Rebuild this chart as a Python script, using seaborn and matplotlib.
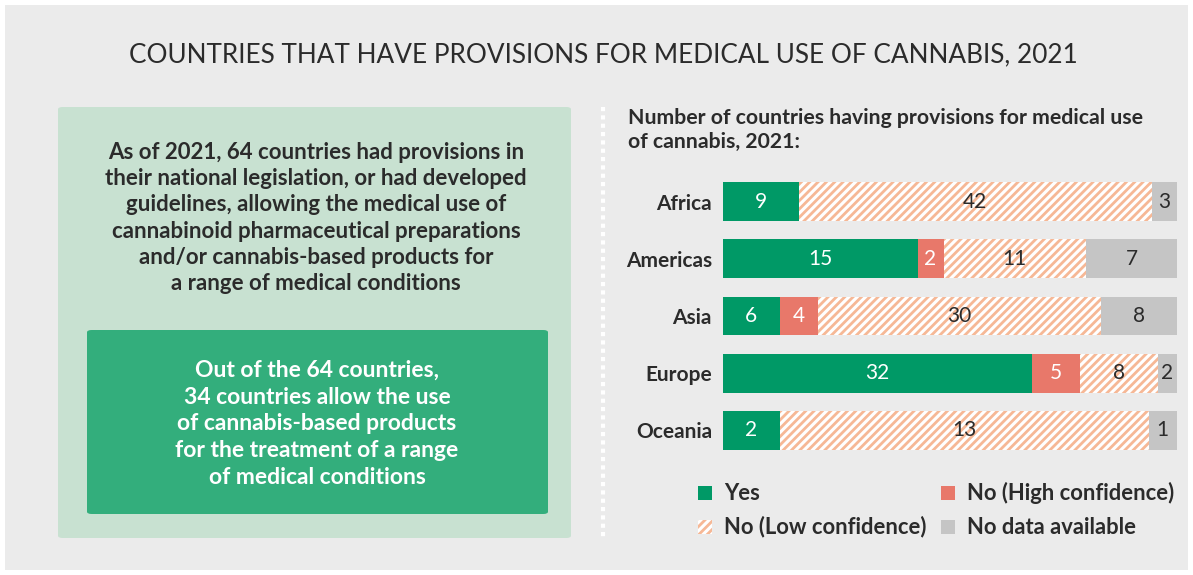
import numpy as np
import pandas as pd
import matplotlib
matplotlib.use("Agg")
import matplotlib.pyplot as plt
import seaborn as sns
from matplotlib.patches import FancyBboxPatch, Rectangle
from matplotlib.lines import Line2D

# ---------------- data ----------------
regions = ["Africa", "Americas", "Asia", "Europe", "Oceania"]
yes = [9, 15, 6, 32, 2]
no_high = [0, 2, 4, 5, 0]
no_low = [42, 11, 30, 8, 13]
no_data = [3, 7, 8, 2, 1]
series_names = ["Yes", "No (High confidence)", "No (Low confidence)", "No data available"]

title = "COUNTRIES THAT HAVE PROVISIONS FOR MEDICAL USE OF CANNABIS, 2021"
subtitle = "Number of countries having provisions for medical use\nof cannabis, 2021:"
box_text = ("As of 2021, 64 countries had provisions in\n"
            "their national legislation, or had developed\n"
            "guidelines, allowing the medical use of\n"
            "cannabinoid pharmaceutical preparations\n"
            "and/or cannabis-based products for\n"
            "a range of medical conditions")
inner_text = ("Out of the 64 countries,\n"
              "34 countries allow the use\n"
              "of cannabis-based products\n"
              "for the treatment of a range\n"
              "of medical conditions")

# ---------------- style ----------------
sns.set_theme(style="white")
plt.rcParams["font.family"] = ["Lato", "DejaVu Sans"]
plt.rcParams["hatch.linewidth"] = 2.0

C_YES = "#009966"
C_HIGH = "#e8786a"
C_LOW = "#f6b896"
C_NA = "#c5c5c5"
BG = "#ebebeb"
TXT = "#2b2b2b"

W, H = 1193, 575
fig = plt.figure(figsize=(W / 100, H / 100), dpi=100)
fig.patch.set_facecolor("white")

def fx(px):
    return px / W

def fy(py):
    return 1 - py / H

# background panel
fig.patches.append(Rectangle((fx(5), fy(570)), fx(1183), 565 / H,
                             transform=fig.transFigure, facecolor=BG, edgecolor="none", zorder=0))

# title
fig.text(fx(603), fy(55), title, ha="center", va="center", fontsize=18.8, color=TXT)

# left boxes
fig.patches.append(FancyBboxPatch((fx(58), fy(538)), fx(513), 431 / H,
                                  boxstyle="round,pad=0,rounding_size=0.004",
                                  transform=fig.transFigure, facecolor="#c8e1d1",
                                  edgecolor="none", zorder=1))
fig.text(fx(316), fy(218), box_text, ha="center", va="center", fontsize=16,
         fontweight="bold", color=TXT, linespacing=1.3, zorder=3)
fig.patches.append(FancyBboxPatch((fx(87), fy(514)), fx(461), 184 / H,
                                  boxstyle="round,pad=0,rounding_size=0.004",
                                  transform=fig.transFigure, facecolor="#33ae7c",
                                  edgecolor="none", zorder=2))
fig.text(fx(317), fy(424), inner_text, ha="center", va="center", fontsize=16.5,
         fontweight="bold", color="white", linespacing=1.35, zorder=3)

# dotted separator
fig.lines.append(Line2D([fx(603), fx(603)], [fy(107), fy(540)], transform=fig.transFigure,
                        color="white", linewidth=3, linestyle=(0, (1, 1)), zorder=1))

# subtitle
fig.text(fx(628), fy(130), subtitle, ha="left", va="center", fontsize=15.3,
         fontweight="bold", color=TXT, linespacing=1.3)

# ---------------- bars ----------------
df = pd.DataFrame({"region": regions, "yes": yes, "high": no_high, "low": no_low, "na": no_data})
cols = ["yes", "high", "low", "na"]
total = df[cols].sum(axis=1)
shares = df[cols].div(total, axis=0)
cum = shares.cumsum(axis=1)

ax = fig.add_axes([fx(723), fy(459), fx(1177) - fx(723), (459 - 173) / H])
ax.set_zorder(5)
ax.set_facecolor("none")

colors = [C_YES, C_HIGH, "white", C_NA]
# draw cumulative bars from last to first (painter's stacking)
for col, color in reversed(list(zip(cols, colors))):
    d = pd.DataFrame({"region": regions, "v": cum[col].values})
    if col == "low":
        sns.barplot(data=d, x="v", y="region", orient="h", color=color, ax=ax,
                    width=0.68, saturation=1, hatch="////", edgecolor=C_LOW, linewidth=0)
    else:
        sns.barplot(data=d, x="v", y="region", orient="h", color=color, ax=ax,
                    width=0.68, saturation=1, linewidth=0)

# labels
for i, r in enumerate(regions):
    for j, col in enumerate(cols):
        v = df.loc[i, col]
        if v == 0:
            continue
        start = cum.loc[i, col] - shares.loc[i, col]
        xc = start + shares.loc[i, col] / 2
        tc = "white" if col in ("yes", "high") else TXT
        ax.text(xc, i, str(v), ha="center", va="center", fontsize=15, color=tc)

ax.set_xlim(0, 1)
ax.set_ylim(4.5, -0.5)
ax.set_xlabel("")
ax.set_ylabel("")
ax.set_xticks([])
ax.tick_params(axis="y", length=0, pad=8)
ax.set_yticks(range(len(regions)))
ax.set_yticklabels(regions, fontsize=15, fontweight="bold", color=TXT)
for s in ax.spines.values():
    s.set_visible(False)

# legend (manual)
leg_items = [(705, 493, C_YES, None, series_names[0]),
             (948, 493, C_HIGH, None, series_names[1]),
             (705, 527, "white", "////", series_names[2]),
             (948, 527, C_NA, None, series_names[3])]
for px, py, c, h, lab in leg_items:
    fig.patches.append(Rectangle((fx(px - 7), fy(py + 7)), fx(14), 14 / H,
                                 transform=fig.transFigure, facecolor=c,
                                 edgecolor=C_LOW if h else "none", hatch=h,
                                 linewidth=0, zorder=3))
    fig.text(fx(px + 19), fy(py), lab, ha="left", va="center", fontsize=15.8,
             fontweight="bold", color=TXT)

fig.savefig("out.png", dpi=100, facecolor=fig.get_facecolor())
